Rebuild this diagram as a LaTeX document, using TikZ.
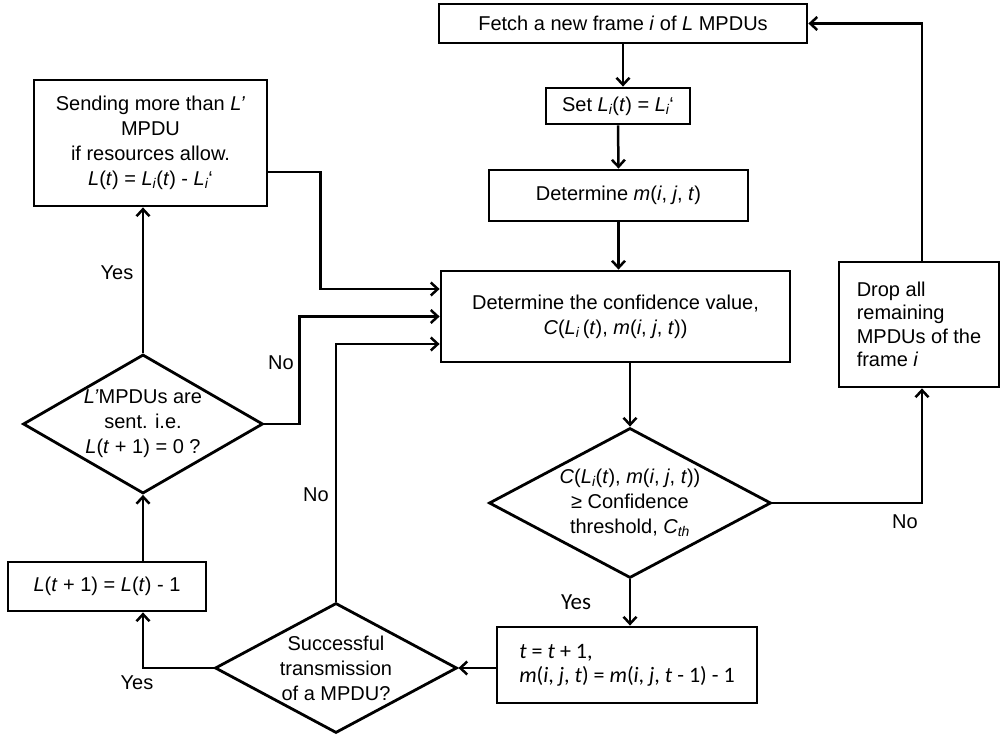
\documentclass[tikz,border=0pt]{standalone}
\usepackage{fontspec}
\setmainfont{Liberation Sans}
\newfontfamily\calibfont{Carlito}
\usetikzlibrary{arrows.meta,shapes.geometric}

\begin{document}
\begin{tikzpicture}[x=1pt, y=1pt,
    every node/.style={font=\fontsize{20}{25}\selectfont},
    box/.style={draw, line width=2.8pt, inner sep=0pt, align=center},
    decision/.style={draw, diamond, line width=2.8pt, inner sep=-12pt, align=center},
    arr/.style={-{Straight Barb[length=7pt,width=13pt]}, line width=2.5pt},
    lbl/.style={inner sep=1pt}]
  \useasboundingbox (0,0) rectangle (1001,739);
  % main column
  \node[box, minimum width=368pt, minimum height=39pt] (fetch) at (623,715.5) {Fetch a new frame \textit{i} of \textit{L} MPDUs};
  \node[box, minimum width=144pt, minimum height=36pt] (set) at (618,633) {Set \textit{L\textsubscript{i}}(\textit{t}) = \textit{L\textsubscript{i}}‘};
  \node[box, minimum width=259pt, minimum height=51pt] (detm) at (618.5,543.5) {Determine \textit{m}(\textit{i}, \textit{j}, \textit{t})};
  \node[box, minimum width=349pt, minimum height=91pt] (conf) at (615.5,422.5) {Determine the confidence value,\\ \textit{C}(\textit{L\textsubscript{i}}\,(\textit{t}), \textit{m}(\textit{i}, \textit{j}, \textit{t}))};
  \node[decision, minimum width=282pt, minimum height=150pt, aspect=1.88] (cdec) at (630,236) {\textit{C}(\textit{L\textsubscript{i}}(\textit{t}), \textit{m}(\textit{i}, \textit{j}, \textit{t}))\\≥ Confidence\\threshold, \textit{C\textsubscript{th}}};
  \node[box, align=left, minimum width=260pt, minimum height=76pt, font={\fontsize{22}{24}\selectfont\calibfont}] (tbox) at (627,74) {\textit{t} = \textit{t} + 1,\\\textit{m}(\textit{i}, \textit{j}, \textit{t}) = \textit{m}(\textit{i}, \textit{j}, \textit{t} - 1) - 1};
  \node[box, align=left, minimum width=160pt, minimum height=125pt, font={\fontsize{20}{23.5}\selectfont}] (drop) at (919,414.5) {Drop all\\remaining\\MPDUs of the\\frame \textit{i}};
  % left loop
  \node[decision, minimum width=242pt, minimum height=130pt, aspect=1.86] (succ) at (336,71) {Successful\\transmission\\of a MPDU?};
  \node[box, minimum width=198pt, minimum height=49pt] (lnext) at (107,152.5) {\textit{L}(\textit{t} + 1) = \textit{L}(\textit{t}) - 1};
  \node[decision, minimum width=240pt, minimum height=139pt, aspect=1.73] (ldec) at (143,315) {\textit{L’}MPDUs are\\sent. i.e.\\\textit{L}(\textit{t} + 1) = 0 ?};
  \node[box, minimum width=233pt, minimum height=126pt] (send) at (150.5,596) {Sending more than \textit{L’}\\MPDU\\ if resources allow.\\\textit{L}(\textit{t}) = \textit{L\textsubscript{i}}(\textit{t}) - \textit{L\textsubscript{i}}‘};
  % connectors
  \draw[arr] (fetch.south) -- (fetch.south |- set.north);
  \draw[arr] (set.south) -- (detm.north);
  \draw[arr] (detm.south) -- (detm.south |- conf.north);
  \draw[arr] (cdec.north |- conf.south) -- (cdec.north);
  \draw[arr] (cdec.south) -- (cdec.south |- tbox.north);
  \draw[arr] (cdec.east) -| ([xshift=3pt]drop.south);
  \draw[arr] ([xshift=3pt]drop.north) |- (fetch.east);
  \draw[arr] (tbox.west |- succ.east) -- (succ.east);
  \draw[arr] (succ.west) -| (lnext.south -| ldec.center);
  \draw[arr] (ldec.south |- lnext.north) -- (ldec.south);
  \draw[arr] (ldec.north) -- (ldec.north |- send.south);
  \draw[arr] (ldec.east) -- ++(35,0) |- (conf.west);
  \draw[arr] ([yshift=-29pt]send.east) -- ++(52,0) |- ([yshift=27.5pt]conf.west);
  \draw[arr] (succ.north) |- ([yshift=-27.5pt]conf.west);
  % labels
  \node[lbl] (yessend) at (117,466) {Yes};
  \node[lbl] (noldec) at (281,376) {No};
  \node[lbl] (nosucc) at (316,244) {No};
  \node[lbl] (yessucc) at (137,56) {Yes};
  \node[lbl] (nocdec) at (905,217) {No};
  \node[lbl, font={\fontsize{23}{25}\selectfont\calibfont}] (yescdec) at (576,137) {Yes};
\end{tikzpicture}
\end{document}
